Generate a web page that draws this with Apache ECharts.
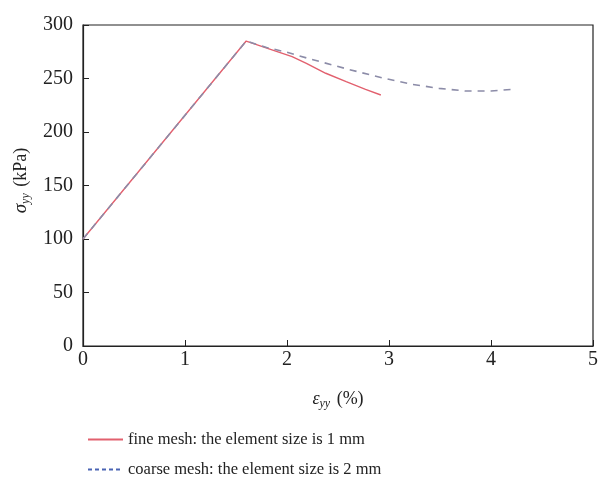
<!DOCTYPE html>
<html>
<head>
<meta charset="utf-8">
<script src="https://cdn.jsdelivr.net/npm/echarts@6/dist/echarts.min.js"></script>
<style>html,body{margin:0;padding:0;background:#fff}#c{width:601px;height:489px}</style>
</head>
<body>
<div id="c"></div>
<script>
// Data (strain %, stress kPa)
const fineX = [0, 1.60, 1.86, 2.05, 2.19, 2.38, 2.58, 2.77, 2.92];
const fineY = [100, 285, 276.6, 270.4, 264.2, 254.9, 247, 239.9, 234.6];
const coarseX = [0, 1.60, 1.80, 2.00, 2.20, 2.60, 2.95, 3.23, 3.49, 3.75, 4.00, 4.22];
const coarseY = [100, 285, 279, 274.5, 269, 258.6, 250.2, 244.5, 240.8, 238.3, 238.3, 240];
const xTicks = [0, 1, 2, 3, 4, 5];
const yTicks = [0, 50, 100, 150, 200, 250, 300];
const seriesNames = ['fine mesh: the element size is 1 mm', 'coarse mesh: the element size is 2 mm'];

const font = 'Liberation Serif';
const chart = echarts.init(document.getElementById('c'));
const zip = (a, b) => a.map((v, i) => [v, b[i]]);
chart.setOption({
  animation: false,
  textStyle: { fontFamily: font },
  grid: { left: 83, right: 6, top: 25, bottom: 143, show: true, borderColor: '#222', borderWidth: 1.2 },
  xAxis: {
    type: 'value', min: xTicks[0], max: xTicks[xTicks.length - 1], interval: 1,
    axisLine: { lineStyle: { color: '#222', width: 1.2 } },
    axisTick: { inside: true, length: 6, lineStyle: { color: '#222' } },
    axisLabel: { color: '#222', fontSize: 20, fontFamily: font, margin: 4 },
    splitLine: { show: false },
    name: '{e|ε}{sub|yy} (%)', nameLocation: 'middle', nameGap: 42,
    nameTextStyle: {
      color: '#222', fontSize: 18, fontFamily: font,
      rich: {
        e: { fontStyle: 'italic', fontSize: 18, fontFamily: font, color: '#222' },
        sub: { fontStyle: 'italic', fontSize: 12, fontFamily: font, color: '#222', padding: [10, 2, 0, 0] }
      }
    }
  },
  yAxis: {
    type: 'value', min: yTicks[0], max: yTicks[yTicks.length - 1], interval: 50,
    axisLine: { show: true, lineStyle: { color: '#222', width: 1.2 } },
    axisTick: { show: true, inside: true, length: 6, lineStyle: { color: '#222' } },
    axisLabel: { color: '#222', fontSize: 20, fontFamily: font, margin: 10 },
    splitLine: { show: false },
    name: '{s|σ}{sub|yy} (kPa)', nameLocation: 'middle', nameGap: 49, nameRotate: 90,
    nameTextStyle: {
      color: '#222', fontSize: 18, fontFamily: font, padding: [0, 0, 0, 10],
      rich: {
        s: { fontStyle: 'italic', fontSize: 19, fontFamily: font, color: '#222' },
        sub: { fontStyle: 'italic', fontSize: 12, fontFamily: font, color: '#222', padding: [10, 2, 0, 0] }
      }
    }
  },
  legend: {
    orient: 'vertical', left: 82, top: 426, itemGap: 13, itemWidth: 35, itemHeight: 14,
    textStyle: { color: '#222', fontSize: 16.5, fontFamily: font },
    itemStyle: { opacity: 0 },
    data: [
      { name: seriesNames[0], itemStyle: { opacity: 0 } },
      { name: seriesNames[1], itemStyle: { opacity: 0 }, lineStyle: { color: '#4a64b4', type: [4, 3] } }
    ]
  },
  series: [
    {
      name: seriesNames[0], type: 'line', symbol: 'none', showSymbol: false,
      data: zip(fineX, fineY),
      lineStyle: { color: '#e2606e', width: 1.4 }, itemStyle: { color: '#e2606e' }
    },
    {
      name: seriesNames[1], type: 'line', symbol: 'none', showSymbol: false,
      data: zip(coarseX, coarseY),
      lineStyle: { color: '#8c8ca8', width: 1.6, type: [7, 6] }, itemStyle: { color: '#8c8ca8' }
    }
  ]
});
</script>
</body>
</html>
